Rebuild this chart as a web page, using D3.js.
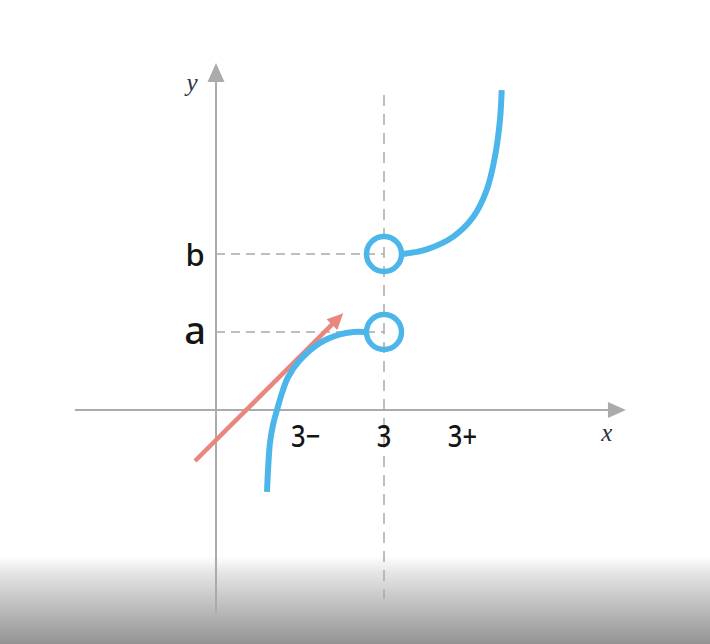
<!DOCTYPE html>
<html>
<head>
<meta charset="utf-8">
<script src="https://cdn.jsdelivr.net/npm/d3@7"></script>
<style>
html,body{margin:0;padding:0;background:#fff;}
svg{display:block;}
</style>
</head>
<body>
<svg id="chart" width="710" height="644"></svg>
<script>
// ---- data ----
const xTickLabels = ["3−", "3", "3+"];
const xTickValues = [1.6, 3, 4.4];
const yTickLabels = ["b", "a"];
const yTickValues = [2, 1];
const leftBranch = [[0.911,-1.05],[0.929,-0.77],[0.964,-0.42],[1.018,-0.19],[1.089,0],[1.179,0.22],[1.286,0.42],[1.5,0.64],[1.857,0.86],[2.214,0.97],[2.45,1.0],[2.66,1.0]];
const rightBranch = [[3.34,2.0],[3.763,2.06],[4.232,2.22],[4.589,2.47],[4.834,2.82],[4.982,3.25],[5.071,3.72],[5.102,4.1]];
const openPoints = [[3,2],[3,1]];
const arrowFrom = [-0.375,-0.654];
const arrowTo = [2.273,1.24];
const xAxisExtent = [-2.52, 7.32];
const yAxisExtent = [-2.6, 4.45];
const dashedVertical = [-2.42, 4.04];

const svg = d3.select("#chart");
const W = 710, H = 644;

// bottom shading
const defs = svg.append("defs");
const g = defs.append("linearGradient").attr("id","shade").attr("x1",0).attr("x2",0).attr("y1",0).attr("y2",1);
g.append("stop").attr("offset","0").attr("stop-color","#ffffff");
g.append("stop").attr("offset","0.2").attr("stop-color","#e4e4e4");
g.append("stop").attr("offset","1").attr("stop-color","#939393");
svg.append("rect").attr("width",W).attr("height",H).attr("fill","#fff");
svg.append("rect").attr("x",0).attr("y",556).attr("width",W).attr("height",H-556).attr("fill","url(#shade)");

const x = d3.scaleLinear().domain([0,3]).range([216,384]);
const y = d3.scaleLinear().domain([0,2]).range([410,254]);

const axisColor = "#ababab";
const dashColor = "#a9a9a9";

// dashed guides
yTickValues.forEach(v => {
  svg.append("line").attr("x1",x(0)).attr("x2",x(3)).attr("y1",y(v)).attr("y2",y(v))
    .attr("stroke",dashColor).attr("stroke-width",1.5).attr("stroke-dasharray","9,6");
});
svg.append("line").attr("x1",x(3)).attr("x2",x(3)).attr("y1",y(dashedVertical[1])).attr("y2",y(dashedVertical[0]))
  .attr("stroke",dashColor).attr("stroke-width",1.5).attr("stroke-dasharray","11,8");

// axes
svg.append("line").attr("x1",x(xAxisExtent[0])).attr("x2",x(xAxisExtent[1])-17).attr("y1",y(0)).attr("y2",y(0))
  .attr("stroke",axisColor).attr("stroke-width",2);
svg.append("line").attr("x1",x(0)).attr("x2",x(0)).attr("y1",y(yAxisExtent[0])).attr("y2",y(yAxisExtent[1])+17)
  .attr("stroke",axisColor).attr("stroke-width",2);
const xt = x(xAxisExtent[1]), yt = y(yAxisExtent[1]);
svg.append("path").attr("d",`M${xt},${y(0)} L${xt-18},${y(0)-8} L${xt-18},${y(0)+8} Z`).attr("fill",axisColor);
svg.append("path").attr("d",`M${x(0)},${yt} L${x(0)-8.5},${yt+19} L${x(0)+8.5},${yt+19} Z`).attr("fill",axisColor);

// axis letters
svg.append("text").attr("x",x(xAxisExtent[1])-19).attr("y",y(0)+31).attr("text-anchor","middle")
  .attr("font-family","'Liberation Serif', serif").attr("font-style","italic").attr("font-size",25)
  .attr("fill","#2d3440").text("x");
svg.append("text").attr("x",x(0)-24).attr("y",yt+28).attr("text-anchor","middle")
  .attr("font-family","'Liberation Serif', serif").attr("font-style","italic").attr("font-size",25)
  .attr("fill","#2d3440").text("y");

// tick labels
xTickValues.forEach((v,i) => {
  svg.append("text").attr("x",x(v)).attr("y",y(0)+37).attr("text-anchor","middle")
    .attr("font-family","'Noto Sans', sans-serif").attr("font-size",30).attr("font-weight",500).attr("fill","#151515")
    .attr("transform",`translate(${x(v)},0) scale(0.85,1) translate(${-x(v)},0)`)
    .text(xTickLabels[i]);
});
yTickValues.forEach((v,i) => {
  svg.append("text").attr("x",x(0)-21).attr("y",y(v)+12).attr("text-anchor","middle")
    .attr("font-family","'Noto Sans', sans-serif").attr("font-size",i===0?31:38).attr("font-weight",500).attr("fill","#151515")
    .text(yTickLabels[i]);
});

// red arrow
const red = "#e8877d";
const ax0 = x(arrowFrom[0]), ay0 = y(arrowFrom[1]), ax1 = x(arrowTo[0]), ay1 = y(arrowTo[1]);
const ang = Math.atan2(ay1-ay0, ax1-ax0);
const hl = 16, hw = 7.5;
const bx = ax1 - hl*Math.cos(ang), by = ay1 - hl*Math.sin(ang);
svg.append("line").attr("x1",ax0).attr("y1",ay0).attr("x2",bx+2*Math.cos(ang)).attr("y2",by+2*Math.sin(ang))
  .attr("stroke",red).attr("stroke-width",4.5);
svg.append("path").attr("d",`M${ax1},${ay1} L${bx - hw*Math.sin(ang)},${by + hw*Math.cos(ang)} L${bx + hw*Math.sin(ang)},${by - hw*Math.cos(ang)} Z`)
  .attr("fill",red);

// blue curves
const blue = "#4cb6ea";
const line = d3.line().x(d=>x(d[0])).y(d=>y(d[1])).curve(d3.curveCatmullRom.alpha(0.5));
[leftBranch, rightBranch].forEach(b => {
  svg.append("path").attr("d",line(b)).attr("fill","none").attr("stroke",blue).attr("stroke-width",6).attr("stroke-linecap","butt");
});
openPoints.forEach(p => {
  svg.append("circle").attr("cx",x(p[0])).attr("cy",y(p[1])).attr("r",17.5)
    .attr("fill","none").attr("stroke",blue).attr("stroke-width",5.5);
});
</script>
</body>
</html>
